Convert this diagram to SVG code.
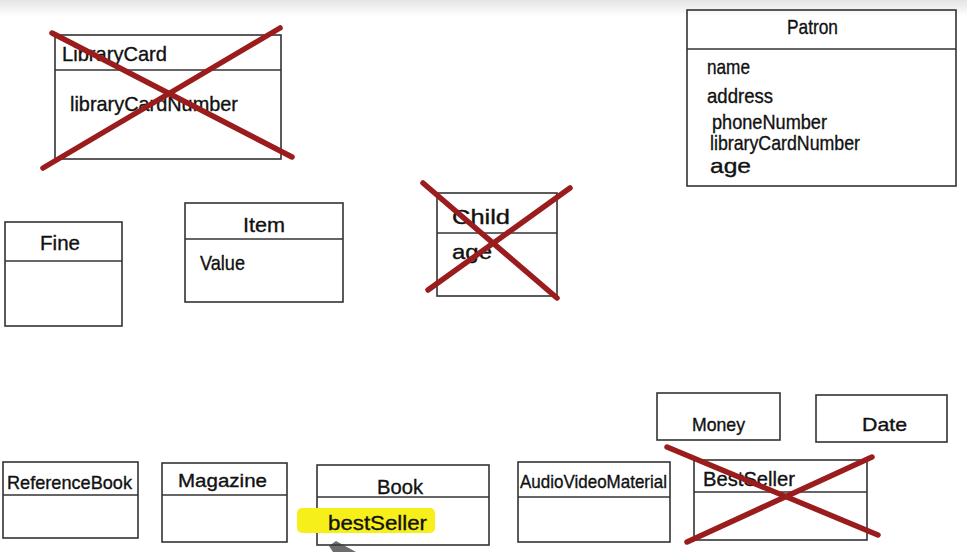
<svg xmlns="http://www.w3.org/2000/svg" width="967" height="552" viewBox="0 0 967 552">
<defs>
<linearGradient id="topshade" x1="0" y1="0" x2="0" y2="1">
<stop offset="0" stop-color="#e4e4e4"/>
<stop offset="1" stop-color="#ffffff"/>
</linearGradient>
<style>
.box{fill:none;stroke:#333333;stroke-width:1.6}
.t{font-family:"Liberation Sans","Open Sans",sans-serif;font-size:21px;fill:#111;stroke:#111;stroke-width:0.35}
.ts{font-family:"Liberation Sans","Open Sans",sans-serif;font-size:19px;fill:#111;stroke:#111;stroke-width:0.35}
.x{stroke:#9a1c1c;stroke-width:5.5;stroke-linecap:round;fill:none}
</style>
</defs>
<rect x="0" y="0" width="967" height="552" fill="#ffffff"/>
<rect x="0" y="0" width="967" height="16" fill="url(#topshade)"/>

<g id="LibraryCard">
<rect class="box" x="55" y="35" width="226" height="124"/>
<line class="box" x1="55" y1="70" x2="281" y2="70"/>
<text class="t" x="62" y="61" textLength="105" lengthAdjust="spacingAndGlyphs">LibraryCard</text>
<text class="t" x="70" y="111" textLength="168" lengthAdjust="spacingAndGlyphs">libraryCardNumber</text>
<line class="x" x1="52" y1="33" x2="292" y2="157"/>
<line class="x" x1="280" y1="28" x2="43" y2="168"/>
</g>

<g id="Patron">
<rect class="box" x="687" y="10" width="269" height="176"/>
<line class="box" x1="687" y1="49" x2="956" y2="49"/>
<text class="t" x="787" y="34" textLength="51" lengthAdjust="spacingAndGlyphs">Patron</text>
<text class="t" x="707" y="74" textLength="43" lengthAdjust="spacingAndGlyphs">name</text>
<text class="t" x="707" y="103" textLength="66" lengthAdjust="spacingAndGlyphs">address</text>
<text class="t" x="712" y="129" textLength="115" lengthAdjust="spacingAndGlyphs">phoneNumber</text>
<text class="t" x="710" y="150" textLength="150" lengthAdjust="spacingAndGlyphs">libraryCardNumber</text>
<text class="t" x="710" y="173" textLength="41" lengthAdjust="spacingAndGlyphs">age</text>
</g>

<g id="Fine">
<rect class="box" x="5" y="222" width="117" height="104"/>
<line class="box" x1="5" y1="261" x2="122" y2="261"/>
<text class="t" x="40" y="250" textLength="40" lengthAdjust="spacingAndGlyphs">Fine</text>
</g>

<g id="Item">
<rect class="box" x="185" y="203" width="158" height="99"/>
<line class="box" x1="185" y1="239" x2="343" y2="239"/>
<text class="t" x="243" y="232" textLength="42" lengthAdjust="spacingAndGlyphs">Item</text>
<text class="t" x="200" y="270" textLength="45" lengthAdjust="spacingAndGlyphs">Value</text>
</g>

<g id="Child">
<rect class="box" x="437" y="193" width="120" height="103"/>
<line class="box" x1="437" y1="233" x2="557" y2="233"/>
<text class="t" x="452" y="224" textLength="58" lengthAdjust="spacingAndGlyphs">Child</text>
<text class="t" x="452" y="259" textLength="40" lengthAdjust="spacingAndGlyphs">age</text>
<line class="x" x1="423" y1="183" x2="557" y2="298"/>
<line class="x" x1="570" y1="188" x2="428" y2="290"/>
</g>

<g id="ReferenceBook">
<rect class="box" x="3" y="462" width="135" height="76"/>
<line class="box" x1="3" y1="495" x2="138" y2="495"/>
<text class="ts" x="7" y="489" textLength="125" lengthAdjust="spacingAndGlyphs">ReferenceBook</text>
</g>

<g id="Magazine">
<rect class="box" x="162" y="463" width="125" height="79"/>
<line class="box" x1="162" y1="495" x2="287" y2="495"/>
<text class="ts" x="178" y="487" textLength="89" lengthAdjust="spacingAndGlyphs">Magazine</text>
</g>

<g id="Book">
<rect class="box" x="317" y="465" width="172" height="80"/>
<line class="box" x1="317" y1="497" x2="489" y2="497"/>
<text class="t" x="377" y="494" textLength="46" lengthAdjust="spacingAndGlyphs">Book</text>
<rect x="297" y="508" width="138" height="25" rx="5" fill="#f7ef1a"/>
<text class="t" x="328" y="530" textLength="99" lengthAdjust="spacingAndGlyphs">bestSeller</text>
</g>

<g id="AudioVideoMaterial">
<rect class="box" x="518" y="462" width="152" height="80"/>
<line class="box" x1="518" y1="497" x2="670" y2="497"/>
<text class="ts" x="520" y="488" textLength="147" lengthAdjust="spacingAndGlyphs">AudioVideoMaterial</text>
</g>

<g id="Money">
<rect class="box" x="657" y="393" width="123" height="47"/>
<text class="ts" x="692" y="431" textLength="53" lengthAdjust="spacingAndGlyphs">Money</text>
</g>

<g id="Date">
<rect class="box" x="816" y="395" width="131" height="47"/>
<text class="ts" x="862" y="431" textLength="45" lengthAdjust="spacingAndGlyphs">Date</text>
</g>

<g id="BestSeller">
<rect class="box" x="694" y="460" width="173" height="80"/>
<line class="box" x1="694" y1="492" x2="867" y2="492"/>
<text class="t" x="703" y="486" textLength="92" lengthAdjust="spacingAndGlyphs">BestSeller</text>
<line class="x" x1="667" y1="447" x2="878" y2="535"/>
<line class="x" x1="872" y1="457" x2="687" y2="542"/>
</g>

<g id="connectors"></g>

<polygon points="329,546 336,541 356,552 333,552" fill="#3c3c3c" opacity="0.75"/>
</svg>
